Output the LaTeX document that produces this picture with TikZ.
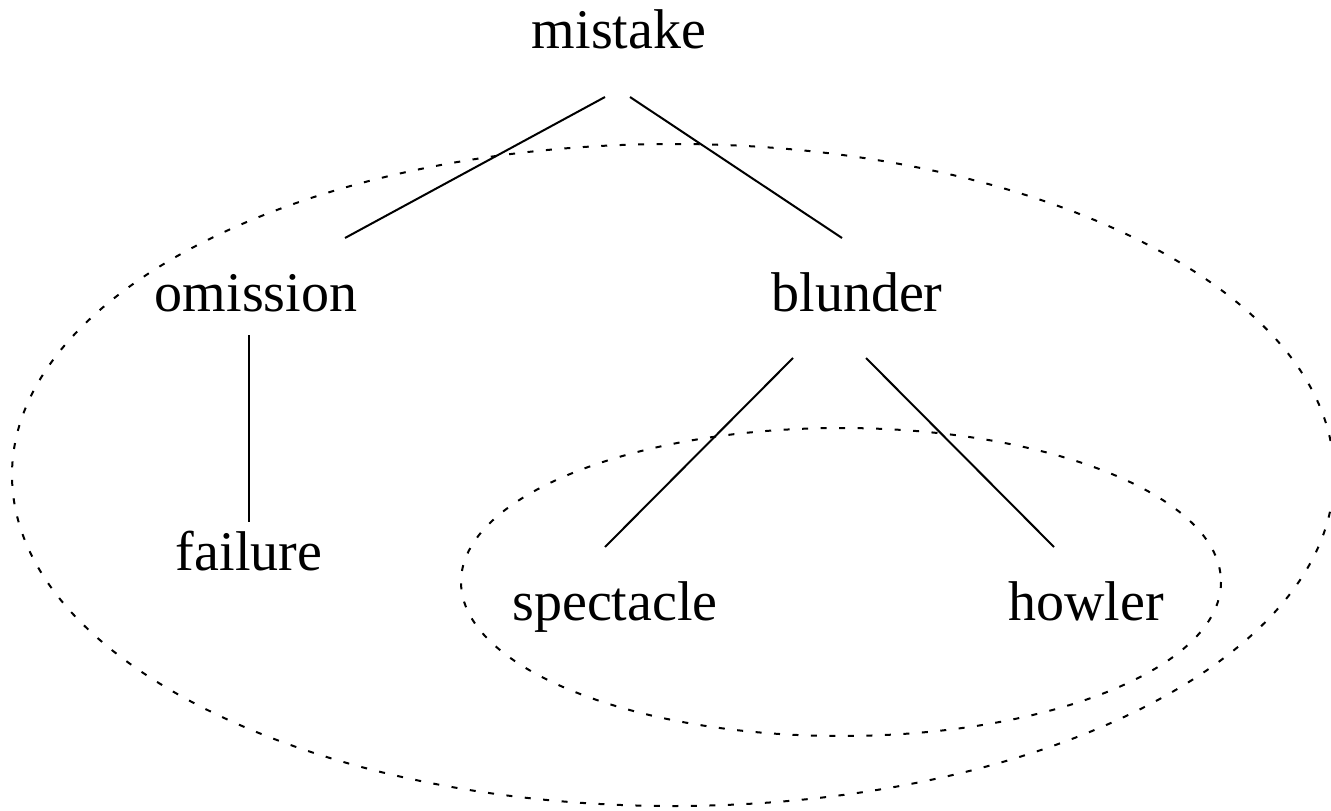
\documentclass[tikz,border=0pt]{standalone}
\usepackage{fontspec}
\setmainfont{Liberation Serif}
\begin{document}
\begin{tikzpicture}[x=1pt,y=-1pt,
  word/.style={anchor=base,inner sep=0pt,font=\fontsize{56}{62}\selectfont},
  edge/.style={line width=2pt},
  group/.style={line width=2pt,dash pattern=on 6pt off 12.5pt}]
\useasboundingbox (0,0) rectangle (1331,811);
\node[word] (mistake) at (619,48) {mistake};
\node[word] (omission) at (256,311) {omission};
\node[word] (blunder) at (857,311) {blunder};
\node[word] (failure) at (249,570) {failure};
\node[word] (spectacle) at (615,620) {spectacle};
\node[word] (howler) at (1086,620) {howler};
\coordinate (mL) at (605,97);
\coordinate (mR) at (630,97);
\coordinate (oT) at (345,238);
\coordinate (bT) at (842,238);
\coordinate (oB) at (249,335);
\coordinate (fT) at (249,522);
\coordinate (bL) at (793,358);
\coordinate (bR) at (866,358);
\coordinate (sT) at (605,547);
\coordinate (hT) at (1054,547);
\draw[edge] (mL) -- (oT);
\draw[edge] (mR) -- (bT);
\draw[edge] (oB) -- (fT);
\draw[edge] (bL) -- (sT);
\draw[edge] (bR) -- (hT);
\draw[group] (673,475) ellipse [x radius=661, y radius=331];
\draw[group] (841,582) ellipse [x radius=380, y radius=154];
\end{tikzpicture}
\end{document}
